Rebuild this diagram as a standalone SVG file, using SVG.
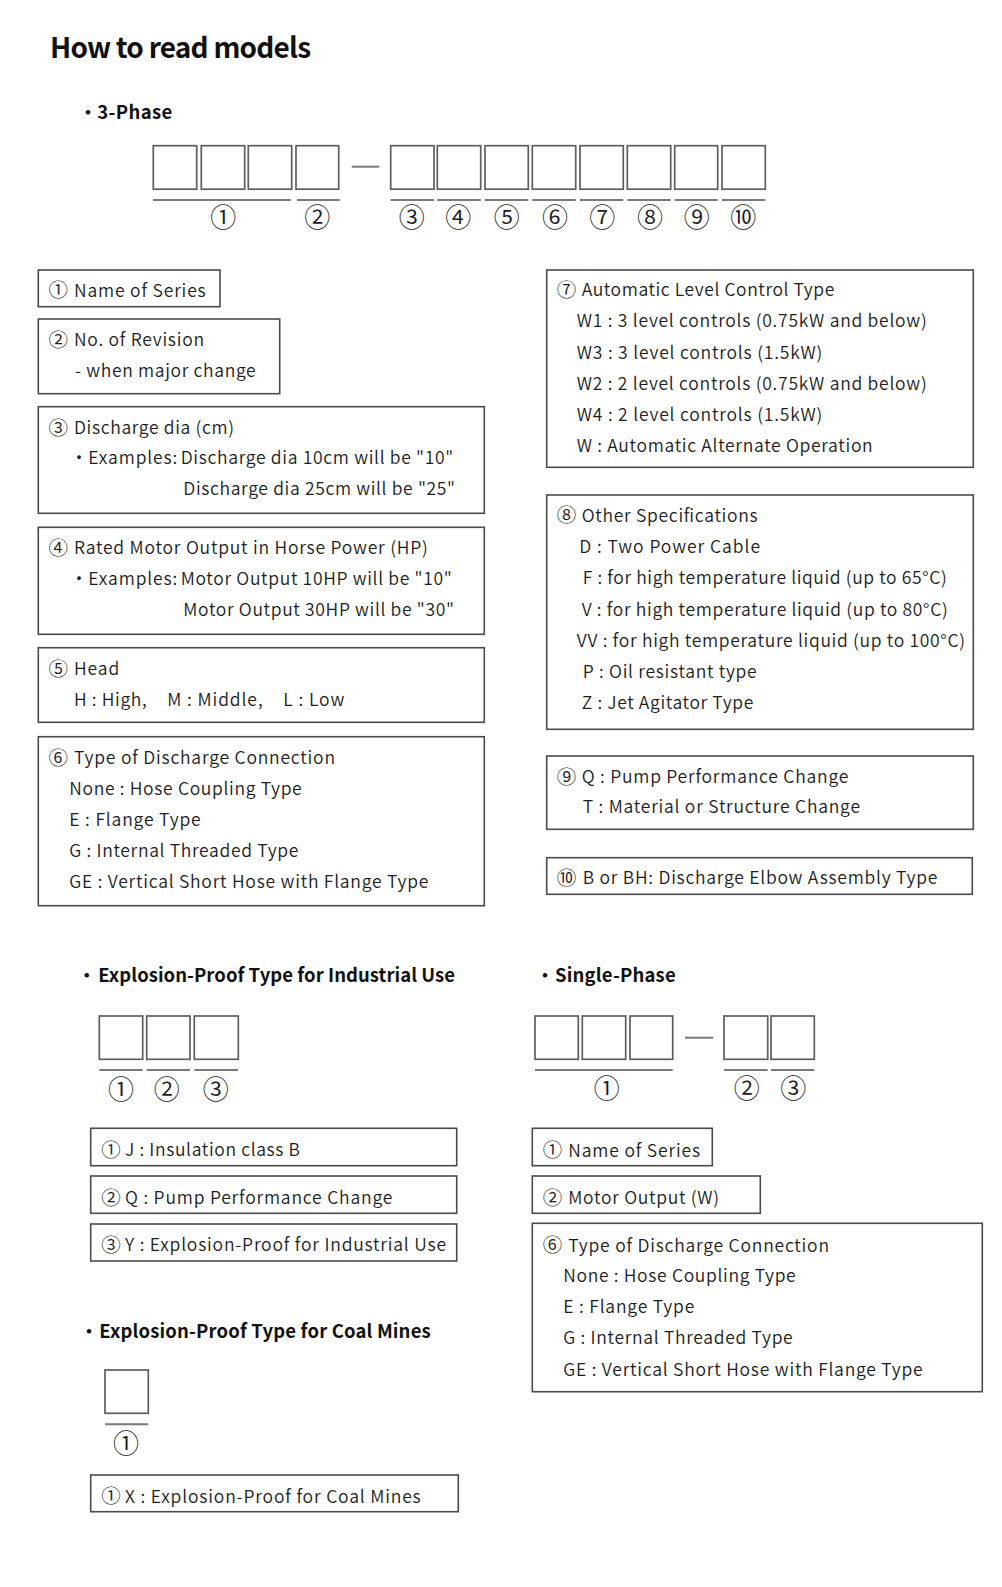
<svg xmlns="http://www.w3.org/2000/svg" width="1002" height="1587" viewBox="0 0 1002 1587">
<style>
.bg{fill:#ffffff}
.box{fill:none;stroke:#4a4a4a;stroke-width:1.6}
.cell{fill:none;stroke:#5e5e5e;stroke-width:1.7}
.ul{stroke:#7a7a7a;stroke-width:2}
text{font-family:"Noto Sans CJK JP","Noto Sans",sans-serif;fill:#1c1c24}
.t{font-size:17.5px;font-weight:350}
.cn{font-size:19.5px;font-weight:350}
.h{font-size:18.5px;font-weight:bold;fill:#111}
.title{font-size:28px;font-weight:bold;fill:#111}
.lab{font-size:26px;text-anchor:middle;font-weight:350}
.dot{font-size:18px;text-anchor:middle}
</style>
<rect class="bg" x="0" y="0" width="1002" height="1587"/>

<g id="title">
<text class="title" x="50" y="58" textLength="261">How to read models</text>
</g>

<!-- 3-Phase -->
<g id="three-phase">
<text class="h dot" x="88" y="119">・</text>
<text class="h" x="97.3" y="119" textLength="75">3-Phase</text>
<rect class="cell" x="153.3" y="145.7" width="43.4" height="43.5"/>
<rect class="cell" x="201.3" y="145.7" width="43.4" height="43.5"/>
<rect class="cell" x="248.3" y="145.7" width="43.4" height="43.5"/>
<rect class="cell" x="296" y="145.7" width="42.7" height="43.5"/>
<line class="ul" x1="351.7" y1="166.7" x2="379.3" y2="166.7"/>
<rect class="cell" x="390.7" y="145.7" width="43.3" height="43.5"/>
<rect class="cell" x="437.3" y="145.7" width="43.4" height="43.5"/>
<rect class="cell" x="485" y="145.7" width="43.3" height="43.5"/>
<rect class="cell" x="532.3" y="145.7" width="43.4" height="43.5"/>
<rect class="cell" x="580" y="145.7" width="43.3" height="43.5"/>
<rect class="cell" x="627.3" y="145.7" width="43.4" height="43.5"/>
<rect class="cell" x="674.7" y="145.7" width="43" height="43.5"/>
<rect class="cell" x="722" y="145.7" width="43.3" height="43.5"/>
<line class="ul" x1="153" y1="200" x2="290.7" y2="200"/>
<line class="ul" x1="297" y1="200" x2="339.7" y2="200"/>
<line class="ul" x1="390.7" y1="200" x2="434" y2="200"/>
<line class="ul" x1="437.3" y1="200" x2="480.7" y2="200"/>
<line class="ul" x1="485" y1="200" x2="528.3" y2="200"/>
<line class="ul" x1="532.3" y1="200" x2="575.7" y2="200"/>
<line class="ul" x1="580" y1="200" x2="623.3" y2="200"/>
<line class="ul" x1="627.3" y1="200" x2="670.7" y2="200"/>
<line class="ul" x1="674.7" y1="200" x2="717.7" y2="200"/>
<line class="ul" x1="722" y1="200" x2="765.3" y2="200"/>
<text class="lab" x="223.3" y="227">①</text>
<text class="lab" x="317.3" y="227">②</text>
<text class="lab" x="411.7" y="227">③</text>
<text class="lab" x="458.3" y="227">④</text>
<text class="lab" x="506.7" y="227">⑤</text>
<text class="lab" x="555" y="227">⑥</text>
<text class="lab" x="602.3" y="227">⑦</text>
<text class="lab" x="650" y="227">⑧</text>
<text class="lab" x="696.7" y="227">⑨</text>
<text class="lab" x="743.3" y="227">⑩</text>
</g>

<g id="box-1-series">
<rect class="box" x="38.3" y="270" width="181.7" height="36.7"/>
<text class="cn" x="48.5" y="297.3">①</text>
<text class="t" x="74" y="296.7" textLength="131.7">Name of Series</text>
</g>

<g id="box-2-revision">
<rect class="box" x="38.3" y="319" width="241.4" height="74.7"/>
<text class="cn" x="48.5" y="346.6">②</text>
<text class="t" x="74" y="346" textLength="130">No. of Revision</text>
<text class="t" x="75" y="376.7" textLength="180.7">- when major change</text>
</g>

<g id="box-3-discharge">
<rect class="box" x="38.3" y="406.7" width="446" height="106.6"/>
<text class="cn" x="48.5" y="434.6">③</text>
<text class="t" x="74" y="434" textLength="160">Discharge dia (cm)</text>
<text class="t dot" x="79" y="464">・</text>
<text class="t" x="88.3" y="464" textLength="89">Examples:</text>
<text class="t" x="180.7" y="464" textLength="272.6">Discharge dia 10cm will be "10"</text>
<text class="t" x="183.3" y="495" textLength="271.7">Discharge dia 25cm will be "25"</text>
</g>

<g id="box-4-motor">
<rect class="box" x="38.3" y="527.3" width="446" height="107"/>
<text class="cn" x="48.5" y="554.9">④</text>
<text class="t" x="74" y="554.3" textLength="353.7">Rated Motor Output in Horse Power (HP)</text>
<text class="t dot" x="79" y="585">・</text>
<text class="t" x="88.3" y="585" textLength="89">Examples:</text>
<text class="t" x="180.7" y="585" textLength="271">Motor Output 10HP will be "10"</text>
<text class="t" x="183.3" y="616" textLength="270.7">Motor Output 30HP will be "30"</text>
</g>

<g id="box-5-head">
<rect class="box" x="38.3" y="647.7" width="446" height="74.6"/>
<text class="cn" x="48.5" y="675.6">⑤</text>
<text class="t" x="74" y="675" textLength="45.3">Head</text>
<text class="t" x="74" y="706" textLength="72.7">H : High,</text>
<text class="t" x="167.3" y="706" textLength="95.3">M : Middle,</text>
<text class="t" x="283.3" y="706" textLength="61">L : Low</text>
</g>

<g id="box-6-connection">
<rect class="box" x="38.3" y="736.7" width="446" height="169"/>
<text class="cn" x="48.5" y="764.9">⑥</text>
<text class="t" x="74" y="764.3" textLength="261">Type of Discharge Connection</text>
<text class="t" x="69.3" y="795.3" textLength="232.4">None : Hose Coupling Type</text>
<text class="t" x="69.3" y="826" textLength="131.4">E : Flange Type</text>
<text class="t" x="69.3" y="857.3" textLength="229">G : Internal Threaded Type</text>
<text class="t" x="69.3" y="888.3" textLength="359">GE : Vertical Short Hose with Flange Type</text>
</g>

<g id="box-7-level">
<rect class="box" x="546.7" y="270" width="426.6" height="197.3"/>
<text class="cn" x="556.8" y="296.6">⑦</text>
<text class="t" x="581.7" y="296" textLength="252.6">Automatic Level Control Type</text>
<text class="t" x="576.7" y="327.3" textLength="350">W1 : 3 level controls (0.75kW and below)</text>
<text class="t" x="576.7" y="358.7" textLength="245.6">W3 : 3 level controls (1.5kW)</text>
<text class="t" x="576.7" y="390" textLength="350">W2 : 2 level controls (0.75kW and below)</text>
<text class="t" x="576.7" y="420.7" textLength="245.6">W4 : 2 level controls (1.5kW)</text>
<text class="t" x="576.7" y="451.7" textLength="296">W : Automatic Alternate Operation</text>
</g>

<g id="box-8-other">
<rect class="box" x="546.7" y="495" width="426.6" height="234.3"/>
<text class="cn" x="556.8" y="522.3">⑧</text>
<text class="t" x="581.7" y="521.7" textLength="176">Other Specifications</text>
<text class="t" x="579.3" y="552.7" textLength="180.7">D : Two Power Cable</text>
<text class="t" x="582.7" y="584" textLength="364">F : for high temperature liquid (up to 65°C)</text>
<text class="t" x="581.7" y="615.7" textLength="366">V : for high temperature liquid (up to 80°C)</text>
<text class="t" x="576.7" y="646.7" textLength="388.3">VV : for high temperature liquid (up to 100°C)</text>
<text class="t" x="582.7" y="678.3" textLength="174">P : Oil resistant type</text>
<text class="t" x="581.7" y="709.3" textLength="171.6">Z : Jet Agitator Type</text>
</g>

<g id="box-9-change">
<rect class="box" x="546.7" y="756" width="426.6" height="73.3"/>
<text class="cn" x="556.8" y="783.9">⑨</text>
<text class="t" x="581.7" y="783.3" textLength="266.6">Q : Pump Performance Change</text>
<text class="t" x="582.7" y="813.3" textLength="277.3">T : Material or Structure Change</text>
</g>

<g id="box-10-elbow">
<rect class="box" x="546.7" y="857.7" width="425.6" height="36.6"/>
<text class="cn" x="556.8" y="884.9">⑩</text>
<text class="t" x="582.7" y="884.3" textLength="354.6">B or BH: Discharge Elbow Assembly Type</text>
</g>

<!-- Explosion-proof industrial -->
<g id="industrial">
<text class="h dot" x="86.7" y="981.7">・</text>
<text class="h" x="98.3" y="981.7" textLength="356.7">Explosion-Proof Type for Industrial Use</text>
<rect class="cell" x="99.3" y="1016" width="43.4" height="43.3"/>
<rect class="cell" x="146.7" y="1016" width="43.3" height="43.3"/>
<rect class="cell" x="194.3" y="1016" width="44" height="43.3"/>
<line class="ul" x1="99.3" y1="1070" x2="142.7" y2="1070"/>
<line class="ul" x1="146.7" y1="1070" x2="190" y2="1070"/>
<line class="ul" x1="194.3" y1="1070" x2="238" y2="1070"/>
<text class="lab" x="121" y="1099">①</text>
<text class="lab" x="166.7" y="1099">②</text>
<text class="lab" x="215.7" y="1099">③</text>
</g>

<g id="ind-box-1">
<rect class="box" x="90.7" y="1128.3" width="366" height="37.4"/>
<text class="cn" x="101.2" y="1156.6">①</text>
<text class="t" x="125" y="1156" textLength="175">J : Insulation class B</text>
</g>
<g id="ind-box-2">
<rect class="box" x="90.7" y="1176" width="366" height="37.3"/>
<text class="cn" x="101.2" y="1204.6">②</text>
<text class="t" x="125" y="1204" textLength="267.3">Q : Pump Performance Change</text>
</g>
<g id="ind-box-3">
<rect class="box" x="90.7" y="1224" width="366" height="37"/>
<text class="cn" x="101.2" y="1251.9">③</text>
<text class="t" x="125" y="1251.3" textLength="321">Y : Explosion-Proof for Industrial Use</text>
</g>

<!-- Coal mines -->
<g id="coal">
<text class="h dot" x="89" y="1337.7">・</text>
<text class="h" x="99.3" y="1337.7" textLength="331.4">Explosion-Proof Type for Coal Mines</text>
<rect class="cell" x="105" y="1370" width="43.3" height="43.3"/>
<line class="ul" x1="105" y1="1424.3" x2="148.3" y2="1424.3"/>
<text class="lab" x="126" y="1452.5">①</text>
</g>
<g id="coal-box-1">
<rect class="box" x="90.7" y="1475" width="367.6" height="36.7"/>
<text class="cn" x="101.2" y="1503.3">①</text>
<text class="t" x="125" y="1502.7" textLength="295.7">X : Explosion-Proof for Coal Mines</text>
</g>

<!-- Single-phase -->
<g id="single-phase">
<text class="h dot" x="545" y="981.7">・</text>
<text class="h" x="555" y="981.7" textLength="120.7">Single-Phase</text>
<rect class="cell" x="535" y="1016" width="43.3" height="43.3"/>
<rect class="cell" x="582.3" y="1016" width="43.4" height="43.3"/>
<rect class="cell" x="630" y="1016" width="42.7" height="43.3"/>
<line class="ul" x1="685" y1="1037.7" x2="713.3" y2="1037.7"/>
<rect class="cell" x="724" y="1016" width="43.7" height="43.3"/>
<rect class="cell" x="771" y="1016" width="43.3" height="43.3"/>
<line class="ul" x1="535" y1="1070" x2="672.7" y2="1070"/>
<line class="ul" x1="724" y1="1070" x2="767.7" y2="1070"/>
<line class="ul" x1="771" y1="1070" x2="814.3" y2="1070"/>
<text class="lab" x="606.7" y="1097.5">①</text>
<text class="lab" x="746.7" y="1097.5">②</text>
<text class="lab" x="793.3" y="1097.5">③</text>
</g>
<g id="sp-box-1">
<rect class="box" x="532.3" y="1128.3" width="180" height="37.4"/>
<text class="cn" x="542.8" y="1157.3">①</text>
<text class="t" x="568.3" y="1156.7" textLength="131.7">Name of Series</text>
</g>
<g id="sp-box-2">
<rect class="box" x="532.3" y="1176" width="228" height="37.3"/>
<text class="cn" x="542.8" y="1204.6">②</text>
<text class="t" x="568.3" y="1204" textLength="150.7">Motor Output (W)</text>
</g>
<g id="sp-box-6">
<rect class="box" x="532.3" y="1223.3" width="450" height="168.4"/>
<text class="cn" x="542.8" y="1252.3">⑥</text>
<text class="t" x="568.3" y="1251.7" textLength="260.7">Type of Discharge Connection</text>
<text class="t" x="563.3" y="1282.3" textLength="232.4">None : Hose Coupling Type</text>
<text class="t" x="563.3" y="1313.3" textLength="131">E : Flange Type</text>
<text class="t" x="563.3" y="1344.3" textLength="229.4">G : Internal Threaded Type</text>
<text class="t" x="563.3" y="1375.7" textLength="359.4">GE : Vertical Short Hose with Flange Type</text>
</g>

<g id="connectors"></g>
</svg>
